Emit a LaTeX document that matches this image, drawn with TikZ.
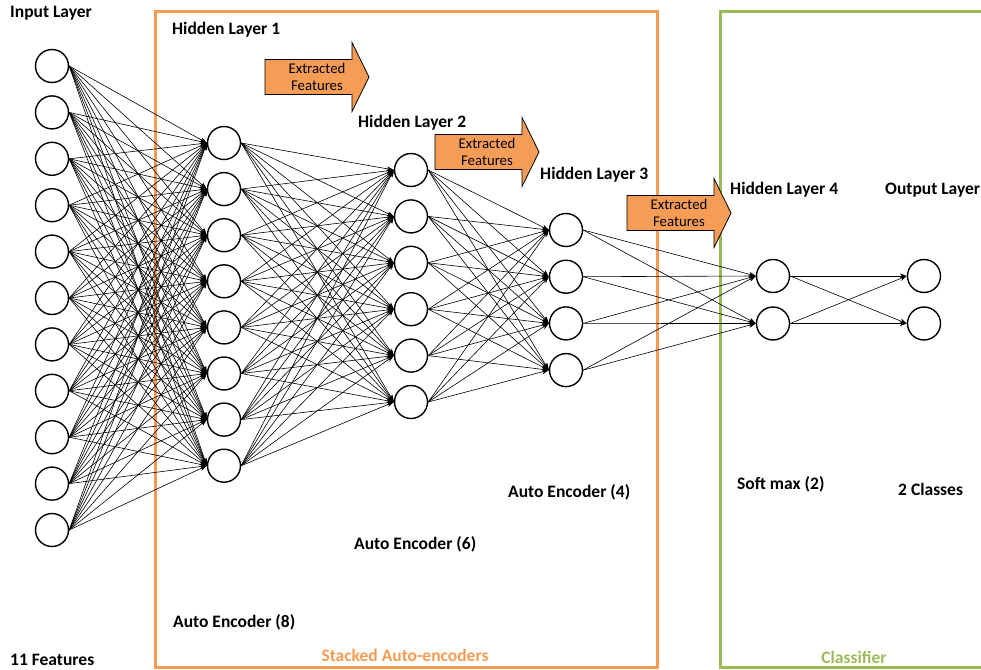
\documentclass[tikz,border=0pt]{standalone}
\usepackage{fontspec}
\setmainfont{Carlito}
\usetikzlibrary{arrows.meta}
\definecolor{saeorange}{HTML}{F79A52}
\definecolor{featfill}{HTML}{F59D56}
\definecolor{clsgreen}{HTML}{9BBB59}

\tikzset{
	neuron/.style={circle, draw, line width=1.4pt, minimum size=33pt, inner sep=0pt},
	conn/.style={-{Stealth[length=7pt,width=5pt]}, line width=0.6pt},
	lbl/.style={anchor=west, inner sep=0pt, font=\fontsize{17.5}{20}\selectfont\bfseries},
	feattext/.style={align=center, inner sep=0pt, font=\fontsize{14.8}{16.5}\selectfont},
	pics/featarrow/.style={code={
		\draw[fill=featfill, line width=0.8pt]
		  (0,-17.5) -- (87,-17.5) -- (87,-34.5) -- (104,0)
		  -- (87,34.5) -- (87,17.5) -- (0,17.5) -- cycle;
		\node[feattext] (-txt) at (52,0) {Extracted\\Features};
	}}
}

\begin{document}
\begin{tikzpicture}[x=1pt, y=-1pt]
	\useasboundingbox (0,0) rectangle (981,669);

	% group frames
	\draw[saeorange, line width=3pt] (155,12) rectangle (657,667);
	\draw[clsgreen, line width=3pt] (720,12) rectangle (992,667);

	% layers: name / x / first y / count / step
	\foreach \l/\x/\y/\k/\d in {in/52/66/11/46.4, ha/224/143/8/46.1, hb/411/170/6/46.4,
	                           hc/566/230/4/46.7, hd/773/276/2/47.5, out/924/276/2/47.5}
		\foreach \i in {1,...,\k}
			\node[neuron] (\l\i) at (\x, {\y+(\i-1)*\d}) {};

	% connections
	\foreach \i in {1,...,11} \foreach \j in {1,...,8}
		\draw[conn] (in\i.east) -- (ha\j.west);
	\foreach \i in {1,...,8} \foreach \j in {1,...,6}
		\draw[conn] (ha\i.east) -- (hb\j.west);
	\foreach \i in {1,...,6} \foreach \j in {1,...,4}
		\draw[conn] (hb\i.east) -- (hc\j.west);
	\foreach \i in {1,...,4} \foreach \j in {1,2}
		\draw[conn] (hc\i.east) -- (hd\j.west);
	\foreach \i in {1,2} \foreach \j in {1,2}
		\draw[conn] (hd\i.east) -- (out\j.west);

	% feature arrows
	\pic (fa) at (265,77) {featarrow};
	\pic (fb) at (435,152) {featarrow};
	\pic (fc) at (627,213) {featarrow};

	% labels
	\node[lbl] (inlbl) at (10,13) {Input Layer};
	\node[lbl] (halbl) at (172,30) {Hidden Layer 1};
	\node[lbl] (hblbl) at (358,123) {Hidden Layer 2};
	\node[lbl] (hclbl) at (540,175) {Hidden Layer 3};
	\node[lbl] (hdlbl) at (730,190) {Hidden Layer 4};
	\node[lbl] (outlbl) at (885,190) {Output Layer};
	\node[lbl] (aec) at (508,492) {Auto Encoder (4)};
	\node[lbl] (aeb) at (354,544) {Auto Encoder (6)};
	\node[lbl] (aea) at (173,622) {Auto Encoder (8)};
	\node[lbl] (smax) at (737,484) {Soft max (2)};
	\node[lbl] (ncls) at (898,489) {2 Classes};
	\node[lbl] (nfeat) at (10,660) {11 Features};
	\node[lbl, text=saeorange, anchor=center] (saelbl) at (405,655) {Stacked Auto-encoders};
	\node[lbl, text=clsgreen, anchor=center] (clslbl) at (854,657) {Classifier};
\end{tikzpicture}
\end{document}
